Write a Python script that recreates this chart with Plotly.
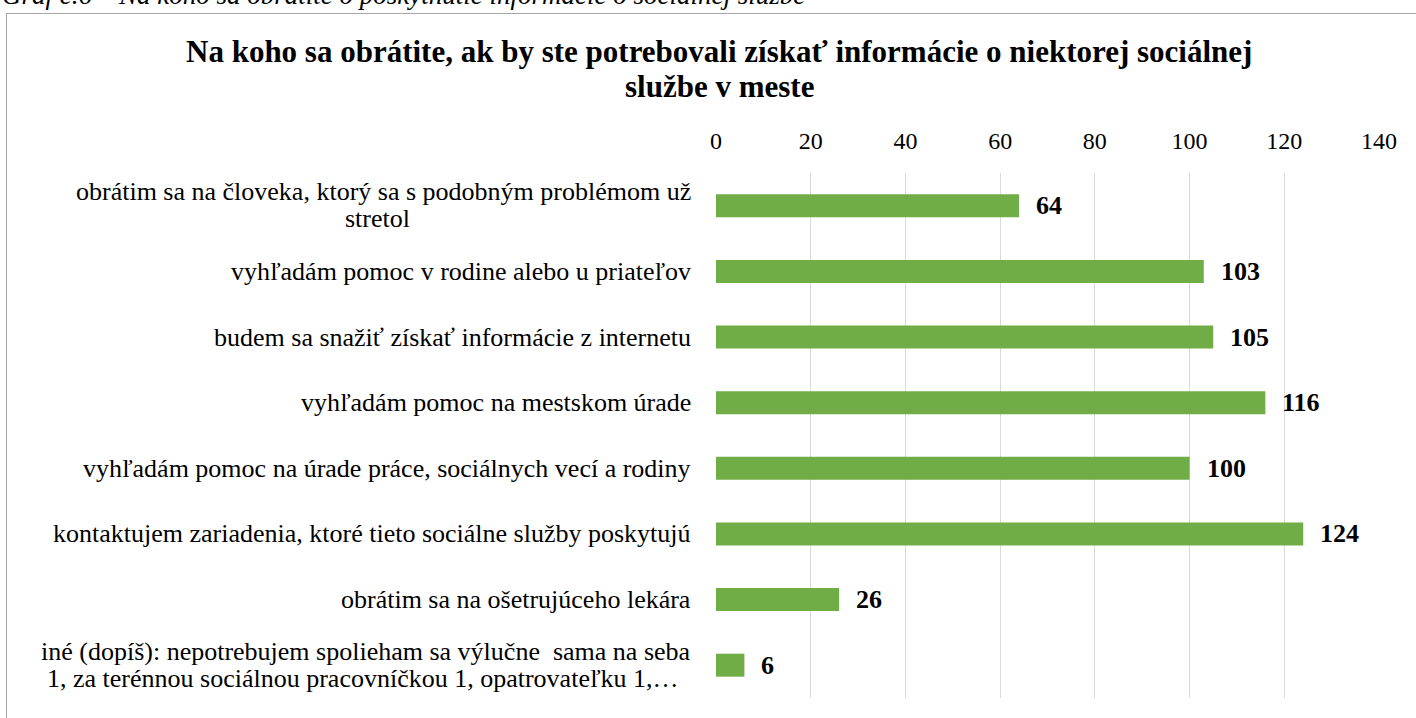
import plotly.graph_objects as go

categories = [
    "obrátim sa na človeka, ktorý sa s podobným problémom už<br>stretol",
    "vyhľadám pomoc v rodine alebo u priateľov",
    "budem sa snažiť získať informácie z internetu",
    "vyhľadám pomoc na mestskom úrade",
    "vyhľadám pomoc na úrade práce, sociálnych vecí a rodiny",
    "kontaktujem zariadenia, ktoré tieto sociálne služby poskytujú",
    "obrátim sa na ošetrujúceho lekára",
    "iné (dopíš): nepotrebujem spolieham sa výlučne  sama na seba<br>1, za terénnou sociálnou pracovníčkou 1, opatrovateľku 1,…",
]
values = [64, 103, 105, 116, 100, 124, 26, 6]
x_ticks = [0, 20, 40, 60, 80, 100, 120, 140]

title_lines = [
    "Na koho sa obrátite, ak by ste potrebovali získať informácie o niektorej sociálnej",
    "službe v meste",
]
caption_text = "Graf č.6 – Na koho sa obrátite o poskytnutie informácie o sociálnej službe"

W, H = 1416, 718
L, R, T, B = 716, 37, 173, 20
pw, ph = W - L - R, H - T - B


def px_x(px):
    return (px - L) / pw


def px_y(py):
    return (H - B - py) / ph


SERIF = "Liberation Serif"
LABEL_RIGHT = 693
LABEL_SIZE = 26

fig = go.Figure()
fig.add_trace(go.Bar(
    x=values, y=categories, orientation="h",
    marker=dict(color="#70AD47", line=dict(width=0)),
    hoverinfo="x+y",
))

annotations = []
for c, v in zip(categories, values):
    annotations.append(dict(
        x=v, y=c, xref="x", yref="y", text=str(v), showarrow=False,
        xanchor="left", xshift=15, yanchor="middle",
        font=dict(family=SERIF, size=26, color="#000000", weight="bold"),
    ))
    lines = c.split("<br>")
    if len(lines) == 1:
        annotations.append(dict(
            x=px_x(LABEL_RIGHT), y=c, xref="paper", yref="y", text=c, showarrow=False,
            xanchor="right", yanchor="middle",
            font=dict(family=SERIF, size=LABEL_SIZE, color="#000000"),
        ))
    else:
        first, second = lines
        annotations.append(dict(
            x=px_x(LABEL_RIGHT), y=c, xref="paper", yref="y", text=first, showarrow=False,
            xanchor="right", yanchor="middle", yshift=14,
            font=dict(family=SERIF, size=LABEL_SIZE, color="#000000"),
        ))
        # second line centred under the first line
        center_px = 377 if len(second) < 20 else 362
        annotations.append(dict(
            x=px_x(center_px), y=c, xref="paper", yref="y", text=second, showarrow=False,
            xanchor="center", yanchor="middle", yshift=-13,
            font=dict(family=SERIF, size=LABEL_SIZE, color="#000000"),
        ))

for line, cy in zip(title_lines, [51, 87]):
    annotations.append(dict(
        x=px_x(719), y=px_y(cy), xref="paper", yref="paper", text=line, showarrow=False,
        xanchor="center", yanchor="middle", align="center",
        font=dict(family=SERIF, size=31, color="#000000", weight="bold"),
    ))
annotations.append(dict(
    x=px_x(0), y=1, xref="paper", yref="paper", text=caption_text, showarrow=False,
    xanchor="left", yanchor="bottom", yshift=T - 12, align="left",
    font=dict(family=SERIF, size=27, color="#000000", style="italic"),
))

fig.update_layout(
    width=W, height=H,
    margin=dict(l=L, r=R, t=T, b=B, autoexpand=False),
    paper_bgcolor="#FFFFFF", plot_bgcolor="#FFFFFF",
    showlegend=False,
    bargap=0.65,
    annotations=annotations,
    shapes=[dict(
        type="rect", xref="paper", yref="paper",
        x0=px_x(6.5), x1=px_x(1430), y0=px_y(740), y1=px_y(13.5),
        line=dict(color="#A6A6A6", width=1), fillcolor="rgba(0,0,0,0)", layer="below",
    )],
    xaxis=dict(
        side="top", range=[0, 140], tickvals=x_ticks, ticktext=[str(t) for t in x_ticks],
        showgrid=True, gridcolor="#D9D9D9", gridwidth=1,
        zeroline=False, showline=False, ticks="",
        ticklabelstandoff=18,
        tickfont=dict(family=SERIF, size=24, color="#000000"),
    ),
    yaxis=dict(
        autorange="reversed", showticklabels=False, showgrid=False,
        zeroline=False, showline=False, ticks="",
    ),
)

fig.write_html(
    "out.html",
    config={"displayModeBar": False},
    post_script="document.body.style.margin='0px';document.body.style.overflow='hidden';",
)
